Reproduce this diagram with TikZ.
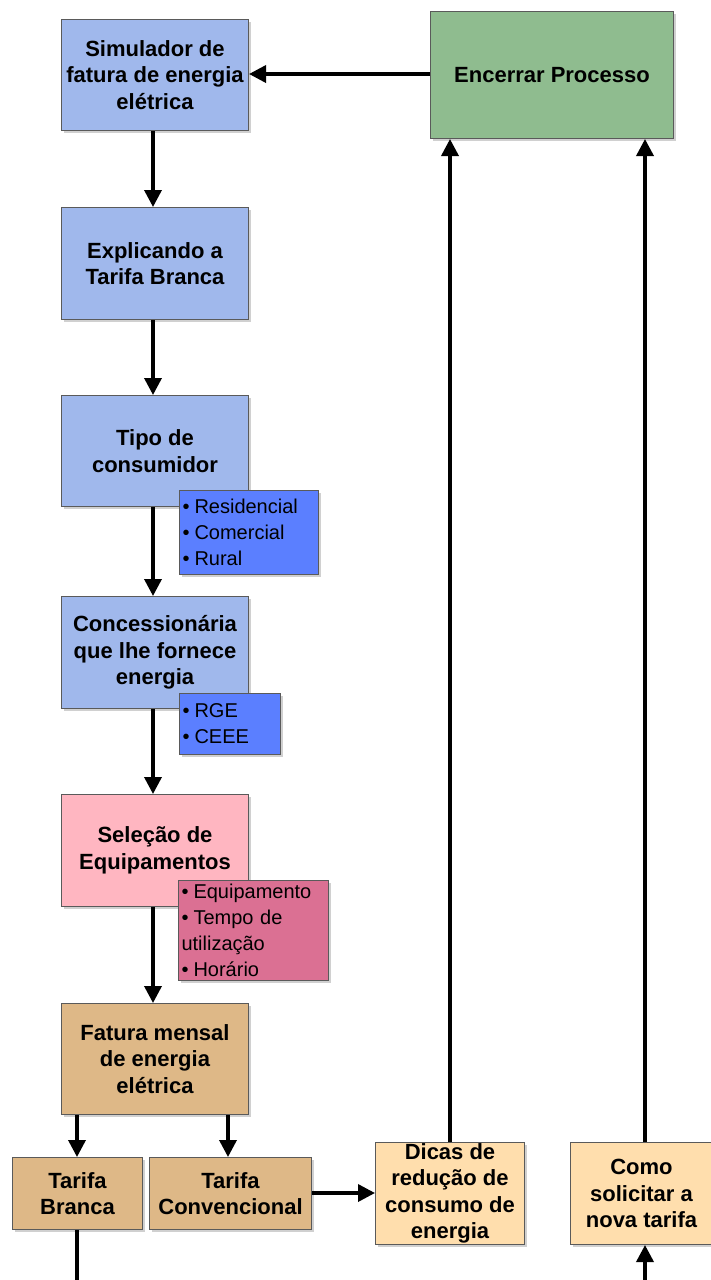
\documentclass[tikz,border=0pt]{standalone}
\usepackage{fontspec}
\setmainfont{Liberation Sans}
\usetikzlibrary{arrows.meta,shadows}
\definecolor{cblue}{HTML}{A0B8EC}
\definecolor{cgreen}{HTML}{8FBC8F}
\definecolor{cbright}{HTML}{5B7FFF}
\definecolor{cpink}{HTML}{FFB6C1}
\definecolor{cmauve}{HTML}{DB7093}
\definecolor{ctan}{HTML}{DEB887}
\definecolor{cpeach}{HTML}{FFDEAD}
\definecolor{cborder}{HTML}{5A5A5A}
\tikzset{
  box/.style={draw=cborder, line width=1pt, anchor=north west, align=center, inner sep=0pt,
    font=\fontsize{22}{26.5}\selectfont\bfseries,
    drop shadow={shadow xshift=2.5pt, shadow yshift=-2.5pt, fill=black!30, opacity=0.6}},
  sub/.style={draw=cborder, line width=1pt, anchor=north west, align=left, inner sep=0pt, inner xsep=3pt,
    text width=#1, font=\fontsize{20}{26}\selectfont,
    drop shadow={shadow xshift=2.5pt, shadow yshift=-2.5pt, fill=black!30, opacity=0.6}},
  arr/.style={line width=3.5pt, -{Triangle[length=17pt,width=17pt]}},
  ln/.style={line width=3.5pt}
}
\newcommand{\bul}{\textbullet\hspace{5pt}}
\begin{document}
\begin{tikzpicture}[x=1pt,y=-1pt]
\useasboundingbox (0,0) rectangle (710,1280);
\fill[white] (0,0) rectangle (710,1280);
% main column
\node[box, fill=cblue, minimum width=187pt, minimum height=111pt] (sim) at (61,19) {Simulador de\\fatura de energia\\elétrica};
\node[box, fill=cgreen, minimum width=243pt, minimum height=127pt] (enc) at (430,11) {Encerrar Processo};
\node[box, fill=cblue, minimum width=187pt, minimum height=112pt] (exp) at (61,207) {Explicando a\\Tarifa Branca};
\node[box, fill=cblue, minimum width=187pt, minimum height=111pt] (tipo) at (61,395) {Tipo de\\consumidor};
\node[box, fill=cblue, minimum width=187pt, minimum height=112pt] (conc) at (61,596) {Concessionária\\que lhe fornece\\energia};
\node[box, fill=cpink, minimum width=187pt, minimum height=112pt] (sel) at (61,794) {Seleção de\\Equipamentos};
\node[box, fill=ctan, minimum width=187pt, minimum height=111pt] (fat) at (61,1003) {Fatura mensal\\de energia\\elétrica};
\node[box, fill=ctan, minimum width=130pt, minimum height=72pt] (tb) at (12,1157) {Tarifa\\Branca};
\node[box, fill=ctan, minimum width=162pt, minimum height=72pt] (tc) at (149,1157) {Tarifa\\Convencional};
\node[box, fill=cpeach, minimum width=149pt, minimum height=102pt] (dic) at (375,1142) {Dicas de\\redução de\\consumo de\\energia};
\node[box, fill=cpeach, minimum width=142pt, minimum height=102pt] (como) at (570,1142) {Como\\solicitar a\\nova tarifa};
% sub boxes
\node[sub=133pt, fill=cbright, minimum height=84pt] (tiposub) at (179,490) {\bul Residencial\\\bul Comercial\\\bul Rural};
\node[sub=95pt, fill=cbright, minimum height=61pt] (concsub) at (179,693) {\bul RGE\\\bul CEEE};
\node[sub=144pt, fill=cmauve, minimum height=100pt] (selsub) at (178,880) {\bul Equipamento\\\bul Tempo de\\utilização\\\bul Horário};
% connectors
\coordinate (tbout) at (77,1280);
\coordinate (comoin) at (645,1280);
\draw[arr] (enc.west |- 0,74) -- (sim.east |- 0,74);
\draw[arr] (sim.south -| 153,0) -- (exp.north -| 153,0);
\draw[arr] (exp.south -| 153,0) -- (tipo.north -| 153,0);
\draw[arr] (tipo.south -| 153,0) -- (conc.north -| 153,0);
\draw[arr] (conc.south -| 153,0) -- (sel.north -| 153,0);
\draw[arr] (sel.south -| 153,0) -- (fat.north -| 153,0);
\draw[arr] (fat.south -| 77,0) -- (tb.north -| 77,0);
\draw[arr] (fat.south -| 228,0) -- (tc.north -| 228,0);
\draw[arr] (tc.east |- 0,1193) -- (dic.west |- 0,1193);
\draw[arr] (dic.north -| 450,0) -- (enc.south -| 450,0);
\draw[arr] (como.north -| 645,0) -- (enc.south -| 645,0);
\draw[ln] (tb.south -| tbout) -- (tbout);
\draw[arr] (comoin) -- (como.south -| comoin);
\end{tikzpicture}
\end{document}
